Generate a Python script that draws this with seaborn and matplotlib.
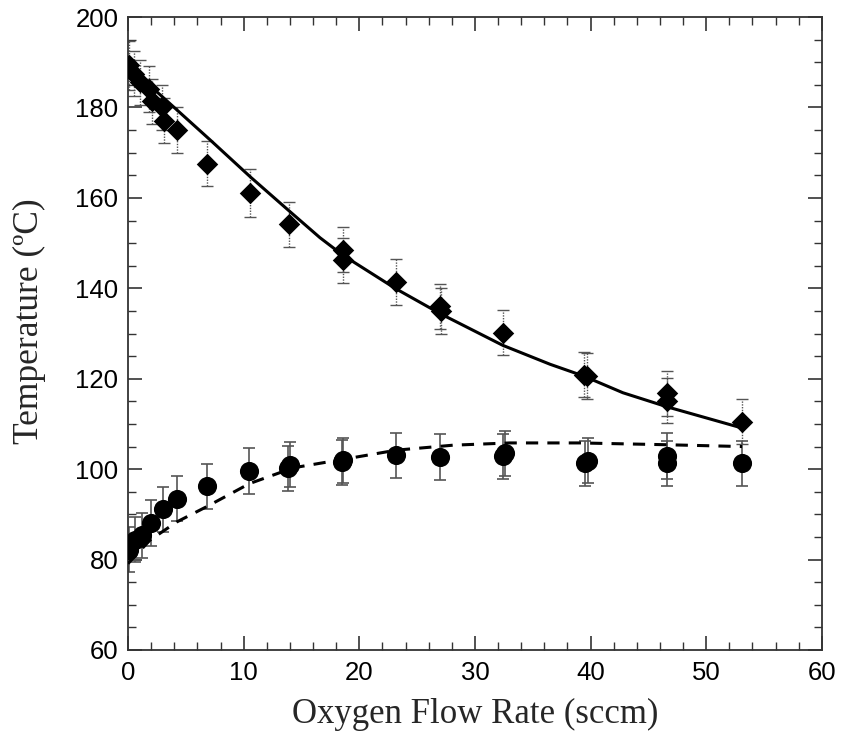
import matplotlib
matplotlib.use("Agg")
import matplotlib.pyplot as plt
import seaborn as sns
import pandas as pd
from matplotlib.ticker import MultipleLocator

# Upper series: temperature (diamonds)
upper_x = [0.05, 0.5, 1.06, 1.8, 2.1, 2.96, 3.15, 4.26, 6.8, 10.55, 13.9,
           18.6, 18.6, 23.2, 27.0, 27.1, 32.4, 39.4, 39.7, 46.6, 46.6, 53.1]
upper_y = [189.3, 187.5, 185.6, 184.1, 181.4, 180.0, 177.1, 175.0, 167.6, 161.0, 154.2,
           148.5, 146.2, 141.4, 136.0, 135.0, 130.2, 120.9, 120.6, 116.8, 115.1, 110.5]
upper_err = [5.5, 5.0, 5.0, 5.0, 5.0, 5.0, 5.0, 5.0, 5.0, 5.3, 5.0,
             5.0, 5.0, 5.0, 5.0, 5.0, 5.0, 5.0, 5.0, 5.0, 5.0, 5.0]

# Lower series: temperature (circles)
lower_x = [0.05, 0.6, 1.2, 2.0, 3.0, 4.2, 6.8, 10.5, 13.8, 14.0, 18.5, 18.6,
           23.2, 27.0, 32.4, 32.6, 39.5, 39.8, 46.6, 46.6, 53.1]
lower_y = [82.2, 84.4, 85.4, 88.1, 91.1, 93.5, 96.2, 99.6, 100.2, 101.0, 101.5, 102.0,
           103.1, 102.7, 102.8, 103.5, 101.3, 101.9, 102.9, 101.3, 101.3]
lower_err = [5.0] * len(lower_x)

# Fitted trend lines
fit_upper_x = [0.0, 2.0, 4.3, 7.2, 10.6, 13.9, 16.6, 18.6, 23.1, 27.0, 32.4, 36.5, 39.4, 42.8, 46.6, 53.1]
fit_upper_y = [189.2, 184.6, 179.3, 172.6, 164.6, 157.2, 151.2, 147.3, 140.0, 134.4, 127.4, 123.2, 120.6, 116.9, 113.8, 109.1]
fit_lower_x = [0.0, 1.9, 4.2, 6.8, 10.5, 14.3, 18.9, 23.2, 28.1, 33.0, 39.1, 46.6, 53.1]
fit_lower_y = [79.1, 84.3, 88.3, 91.7, 96.8, 100.3, 102.3, 104.2, 105.3, 105.8, 105.8, 105.4, 105.0]

sns.set_theme(style="ticks")
plt.rcParams["font.family"] = ["Liberation Sans", "DejaVu Sans"]

fig = plt.figure(figsize=(8.41, 7.42), dpi=100)
ax = fig.add_axes([0.1522, 0.124, 0.825, 0.853])

# error bars
eb = ax.errorbar(upper_x, upper_y, yerr=upper_err, fmt="none", ecolor="#555555",
                 elinewidth=1.0, capsize=4, capthick=1.0, zorder=2)
for seg in eb.lines[2]:
    seg.set_linestyle((0, (1, 1)))
ax.errorbar(lower_x, lower_y, yerr=lower_err, fmt="none", ecolor="#555555",
            elinewidth=1.2, capsize=4, capthick=1.2, zorder=2)

# fitted curves
sns.lineplot(data=pd.DataFrame({"x": fit_upper_x, "y": fit_upper_y}), x="x", y="y",
             ax=ax, color="black", linewidth=2.2, sort=False, zorder=3)
sns.lineplot(data=pd.DataFrame({"x": fit_lower_x, "y": fit_lower_y}), x="x", y="y",
             ax=ax, color="black", linewidth=2.2, sort=False, zorder=3,
             linestyle=(0, (4, 3)))

# markers
sns.scatterplot(x=upper_x, y=upper_y, ax=ax, marker="D", s=120, color="black",
                edgecolor="black", linewidth=0, zorder=4)
sns.scatterplot(x=lower_x, y=lower_y, ax=ax, marker="o", s=190, color="black",
                edgecolor="black", linewidth=0, zorder=4)

ax.set_xlim(0, 60)
ax.set_ylim(60, 200)
ax.xaxis.set_major_locator(MultipleLocator(10))
ax.xaxis.set_minor_locator(MultipleLocator(2))
ax.yaxis.set_major_locator(MultipleLocator(20))
ax.yaxis.set_minor_locator(MultipleLocator(5))
ax.tick_params(which="both", direction="in", top=True, right=True, color="#333333",
               labelsize=18.5, labelcolor="black")
ax.tick_params(axis="x", pad=8)
ax.tick_params(axis="y", pad=7)
ax.tick_params(which="major", length=10, width=1.2)
ax.tick_params(which="minor", length=6, width=1.0)
for s in ax.spines.values():
    s.set_linewidth(1.3)
    s.set_color("#333333")

ax.set_xlabel("Oxygen Flow Rate (sccm)", fontsize=25, family="Liberation Serif")
ax.set_ylabel("Temperature (ºC)", fontsize=25.5, family="Liberation Serif")
ax.xaxis.set_label_coords(0.5, -0.075)
ax.yaxis.set_label_coords(-0.118, 0.52)

fig.savefig("out.png", dpi=100)
